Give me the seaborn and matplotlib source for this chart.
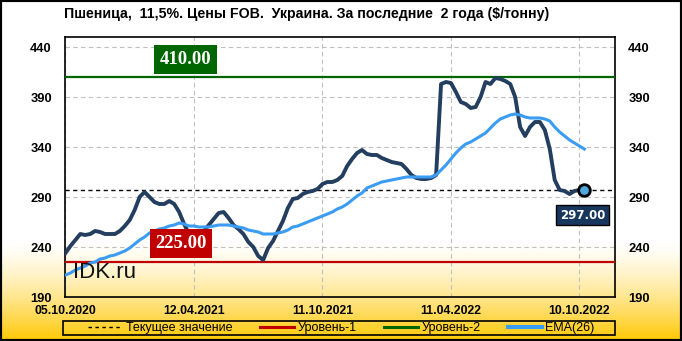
import numpy as np
import pandas as pd
import matplotlib
matplotlib.use("Agg")
import matplotlib.pyplot as plt
import seaborn as sns
from matplotlib.patches import Rectangle
from matplotlib.lines import Line2D

# ---------------- data ----------------
title = "Пшеница,  11,5%. Цены FOB.  Украина. За последние  2 года ($/тонну)"

price = [234, 241, 247, 253, 252, 253, 256, 255, 253, 253,
         253, 256, 261, 267, 277, 290, 295, 290, 285, 283,
         283, 286, 283, 275, 263, 253, 249, 248, 256, 262,
         268, 274, 275, 269, 262, 258, 253, 245, 240, 231,
         227, 239, 246, 256, 266, 279, 288, 289, 293, 295,
         296, 298, 303, 305, 305, 307, 311, 321, 328, 334,
         337, 333, 332, 332, 329, 327, 325, 324, 323, 318,
         312, 309, 308, 308, 309, 312, 403, 405, 404, 395,
         385, 383, 379, 380, 390, 405, 403, 409, 408, 406,
         403, 390, 360, 351, 360, 365, 365, 357, 338, 307,
         297, 296, 293, 296, 297, 297]

ema26 = [212, 214, 217, 219, 221, 224, 225, 228, 229, 231,
         232, 234, 236, 239, 243, 247, 250, 254, 256, 258,
         259, 261, 262, 264, 263, 261, 261, 260, 260, 260,
         261, 262, 262, 262, 261, 260, 259, 257, 256, 255,
         253, 253, 253, 254, 255, 257, 260, 261, 263, 265,
         267, 269, 271, 273, 275, 278, 280, 283, 287, 291,
         294, 299, 301, 303, 305, 306, 307, 308, 309, 310,
         310, 310, 310, 310, 310, 312, 317, 322, 328, 334,
         339, 343, 345, 348, 351, 354, 359, 364, 368, 370,
         372, 373, 372, 370, 369, 369, 369, 368, 366, 360,
         355, 351, 347, 344, 341, 338]

date_labels = ["05.10.2020", "12.04.2021", "11.10.2021", "11.04.2022", "10.10.2022"]
date_positions = [0, 26, 52, 78, 104]
y_ticks = [190, 240, 290, 340, 390, 440]

level1 = 225.0
level2 = 410.0
current = 297.0

legend_labels = ["Текущее значение", "Уровень-1", "Уровень-2", "EMA(26)"]

# ---------------- figure ----------------
W, H = 682, 341
fig = plt.figure(figsize=(W / 100, H / 100), dpi=100)

# background gradient (white -> gold at the bottom)
bg = fig.add_axes([0, 0, 1, 1], zorder=-10)
rows = np.arange(H)
t = np.clip((rows - 240) / (H - 240), 0, 1) ** 1.4
white = np.array([1.0, 1.0, 1.0])
gold = np.array([1.0, 0.78, 0.0])
grad = white[None, :] * (1 - t[:, None]) + gold[None, :] * t[:, None]
img = np.repeat(grad[:, None, :], 4, axis=1)
bg.imshow(img, extent=[0, 1, 0, 1], aspect="auto", origin="upper")
bg.set_axis_off()

ax = fig.add_axes([65 / W, 1 - 297 / H, 550 / W, 260 / H])
ax.set_facecolor("none")

df = pd.DataFrame({"idx": np.arange(len(price)), "price": price, "ema": ema26})

sns.lineplot(data=df, x="idx", y="price", ax=ax, color="#233E5F", linewidth=2.8, zorder=5)
sns.lineplot(data=df, x="idx", y="ema", ax=ax, color="#3A9CF2", linewidth=2.2, zorder=6)

ax.axhline(level2, color="#006600", lw=1.6, zorder=3)
ax.axhline(level1, color="#C00000", lw=1.6, zorder=3)
ax.axhline(current, color="black", lw=1.0, ls=(0, (3, 2.5)), zorder=4)

last = df.iloc[[-1]]
sns.scatterplot(data=last, x="idx", y="price", ax=ax, s=70, color="#4FA8DD",
                edgecolor="black", linewidth=2, zorder=8, legend=False)

ax.text(24.2, 427.5, f"{level2:.2f}", ha="center", va="center", color="white",
        fontsize=13.5, fontweight="bold", family="Liberation Serif",
        bbox=dict(boxstyle="square,pad=0.3", fc="#006600", ec="none"), zorder=10)
ax.text(23.4, 243.5, f"{level1:.2f}", ha="center", va="center", color="white",
        fontsize=13.5, fontweight="bold", family="Liberation Serif",
        bbox=dict(boxstyle="square,pad=0.3", fc="#C00000", ec="none"), zorder=10)
ax.text(104.6, 272, f"{current:.2f}", ha="center", va="center", color="white",
        fontsize=8.5, fontweight="bold", family="DejaVu Sans",
        bbox=dict(boxstyle="square,pad=0.3", fc="#17375E", ec="black", lw=1), zorder=10)

ax.text(1.5, 209.3, "IDK.ru", ha="left", va="baseline", fontsize=16,
        family="Liberation Sans", color="#111111", zorder=7)

ax.set_xlim(-0.1, 111.2)
ax.set_ylim(190, 450)
ax.set_xticks(date_positions)
ax.set_xticklabels(date_labels)
ax.set_yticks(y_ticks)
ax.set_xlabel("")
ax.set_ylabel("")
ax.grid(True, color="#BFBFBF", ls=(0, (4, 3)), lw=0.8)
ax.set_axisbelow(True)
ax.tick_params(axis="both", length=0)
ax.tick_params(axis="y", pad=9.5, labelright=True)
ax.tick_params(axis="x", pad=6)
for lab in ax.get_xticklabels():
    lab.set_fontfamily("Liberation Sans")
    lab.set_fontweight("bold")
    lab.set_fontsize(8.8)
for tick in ax.yaxis.get_major_ticks():
    for lab in (tick.label1, tick.label2):
        lab.set_fontfamily("Liberation Sans")
        lab.set_fontweight("bold")
        lab.set_fontsize(9.3)
for sp in ax.spines.values():
    sp.set_color("black")
    sp.set_linewidth(1.2)

fig.text(64 / W, 1 - 14 / H, title, ha="left", va="center", fontsize=10.2,
         fontweight="bold", family="Liberation Sans")

handles = [
    Line2D([], [], color="black", lw=1.0, ls=(0, (2.5, 2.5))),
    Line2D([], [], color="#C00000", lw=2.2),
    Line2D([], [], color="#006600", lw=2.2),
    Line2D([], [], color="#3A9CF2", lw=3),
]
fig.legend(handles, legend_labels, ncol=4, loc="center",
           bbox_to_anchor=((89 + 594) / 2 / W, 1 - 328 / H), frameon=False,
           prop={"family": "Liberation Sans", "size": 9},
           handlelength=2.7, columnspacing=2.2, handletextpad=0.3,
           borderpad=0, borderaxespad=0)
fig.add_artist(Rectangle((63 / W, 1 - 335 / H), (615 - 63) / W, (335 - 321) / H,
                         transform=fig.transFigure, fill=False, ec="black", lw=1.2))
fig.add_artist(Rectangle((0, 0), 1, 1, transform=fig.transFigure, fill=False,
                         ec="black", lw=3))

fig.savefig("out.png", dpi=100)
